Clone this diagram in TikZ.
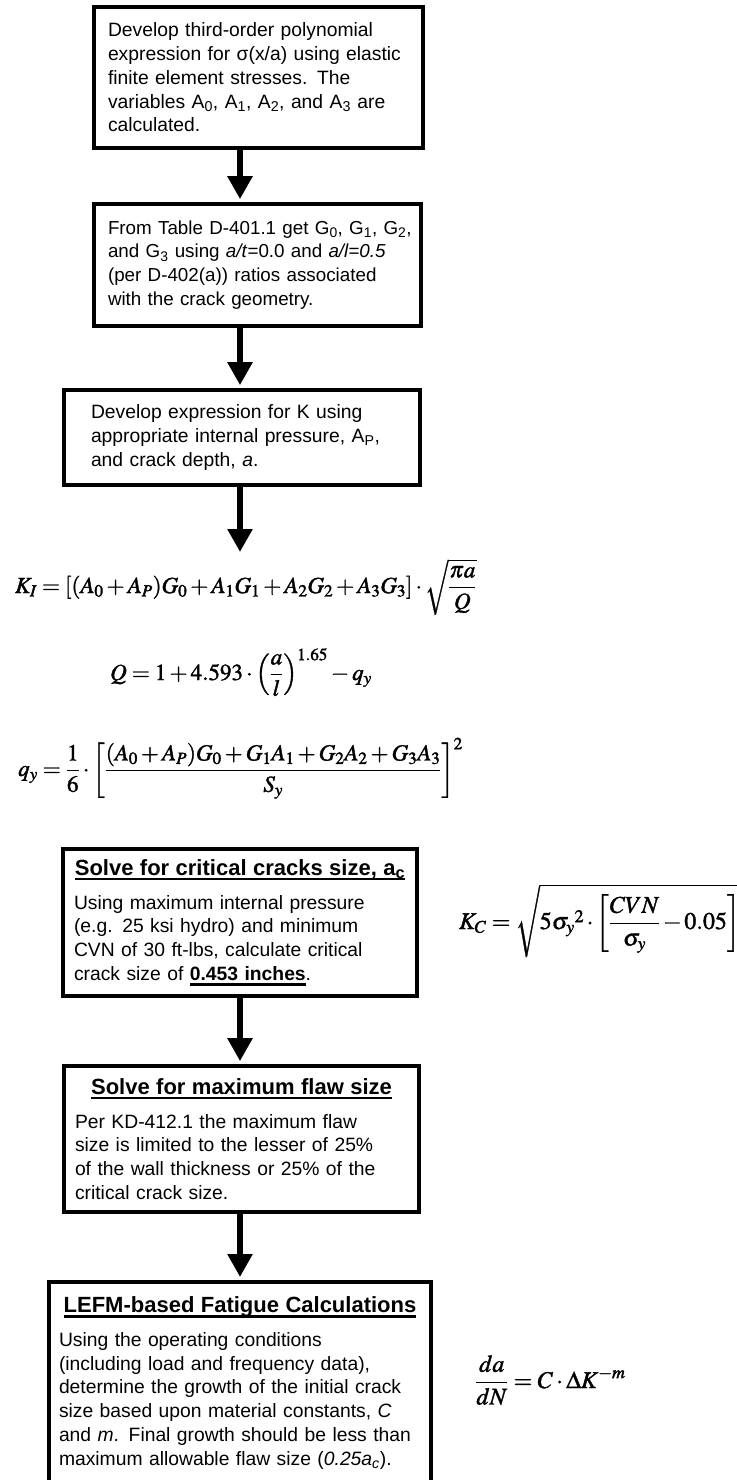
\documentclass[tikz,border=0pt]{standalone}
\usepackage{amsmath}
\usepackage{mathptmx}
\usepackage[no-math]{fontspec}
\newfontfamily\boxfont{Liberation Sans}
\usetikzlibrary{arrows.meta}
\newcommand\undl[1]{\setbox0=\hbox{#1}\rlap{\rule[-5pt]{\wd0}{2.4pt}}\box0}
\newcommand\heavy[1]{\special{x:gsave}\special{pdf:literal direct 2 Tr 0.35 w}#1\special{x:grestore}}
\newcommand\eqsize{\fontsize{23}{27}\selectfont}
\newcommand\boxtitle[1]{\makebox[\hsize][c]{\bfseries\fontsize{22}{23.8}\selectfont\undl{#1}}}

\begin{document}
\begin{tikzpicture}[x=1pt,y=-1pt]
	\tikzstyle{every node}+=[inner sep=0pt]
	\tikzstyle{stepbox}=[draw,line width=3.7pt,align=left,font=\boxfont\fontsize{19.3}{23.8}\selectfont]
	\tikzstyle{flow}=[line width=5.5pt,-{Triangle[width=24pt,length=23pt]},shorten >=3pt]
	\useasboundingbox (0,0) rectangle (736,1480);
	\coordinate (axis) at (240,0);
	\node[stepbox,text width=301pt,inner xsep=14pt,minimum width=329pt,minimum height=141pt] (poly) at (258.5,77.5)
		{Develop third-order polynomial\\expression for σ(x/a) using elastic\\finite element stresses. The\\variables A\textsubscript{0}, A\textsubscript{1}, A\textsubscript{2}, and A\textsubscript{3} are\\calculated.};
	\node[stepbox,font=\boxfont\fontsize{18.8}{23.8}\selectfont,text width=299pt,inner xsep=14pt,minimum width=327pt,minimum height=122pt] (gtab) at (257.5,265)
		{\mbox{From Table D-401.1 get G\textsubscript{0}, G\textsubscript{1}, G\textsubscript{2},}\\and G\textsubscript{3} using \textit{a/t}=0.0 and \textit{a/l=0.5}\\(per D-402(a)) ratios associated\\with the crack geometry.};
	\node[stepbox,text width=302pt,inner xsep=27pt,minimum width=356pt,minimum height=95pt] (kexpr) at (242,437.5)
		{Develop expression for K using\\appropriate internal pressure, A\textsubscript{P},\\and crack depth, \textit{a}.};
	\node[anchor=base west] (ki) at (15,593)
		{\eqsize\heavy{$\displaystyle K_I=[(A_0+A_P)G_0+A_1G_1+A_2G_2+A_3G_3]\cdot\sqrt{\frac{\pi a}{Q}}$}};
	\node[anchor=base west] (qeq) at (110,680)
		{\eqsize\heavy{$\displaystyle Q=1+4.593\cdot\left(\frac{a}{l}\right)^{1.65}-q_y$}};
	\node[anchor=base west] (qy) at (18,776)
		{\eqsize\heavy{$\displaystyle q_y=\frac{1}{6}\cdot\left[\frac{(A_0+A_P)G_0+G_1A_1+G_2A_2+G_3A_3}{S_y}\right]^2$}};
	\node[stepbox,text width=332pt,inner xsep=11pt,minimum width=354pt,minimum height=147pt] (critical) at (240,922.5)
		{\boxtitle{Solve for critical cracks size, a\textsubscript{c}}\\[10pt]Using maximum internal pressure\\(e.g. 25 ksi hydro) and minimum\\CVN of 30 ft-lbs, calculate critical\\crack size of \textbf{\undl{0.453 inches}}.};
	\node[anchor=base west] (kc) at (459,929)
		{\fontsize{24}{28}\selectfont\medmuskip=2mu\heavy{$\displaystyle K_C=\sqrt{5\sigma_y{}^2\cdot\left[\frac{CVN}{\sigma_y}-0.05\right]}$}};
	\node[stepbox,text width=333pt,inner xsep=11pt,minimum width=355pt,minimum height=146pt] (maxflaw) at (241.5,1139)
		{\boxtitle{Solve for maximum flaw size}\\[10pt]Per KD-412.1 the maximum flaw\\size is limited to the lesser of 25\%\\of the wall thickness or 25\% of the\\critical crack size.};
	\node[stepbox,anchor=north,text width=362pt,inner xsep=10pt,minimum width=382pt,minimum height=222pt] (fatigue) at (240,1280)
		{\boxtitle{LEFM-based Fatigue Calculations}\\[10pt]Using the operating conditions\\(including load and frequency data),\\determine the growth of the initial crack\\size based upon material constants, \textit{C}\\and \textit{m}. Final growth should be less than\\maximum allowable flaw size (\textit{0.25a\textsubscript{c}}).\\\mbox{}};
	\node[anchor=base west] (dadn) at (475,1388)
		{\fontsize{24}{28}\selectfont\heavy{$\displaystyle\frac{da}{dN}=C\cdot\Delta K^{-m}$}};
	\coordinate (kin) at (240,555);
	\draw[flow] (poly.south -| axis) -- (gtab.north -| axis);
	\draw[flow] (gtab.south -| axis) -- (kexpr.north -| axis);
	\draw[flow] (kexpr.south -| axis) -- (kin);
	\draw[flow] (critical.south -| axis) -- (maxflaw.north -| axis);
	\draw[flow] (maxflaw.south -| axis) -- (fatigue.north -| axis);
\end{tikzpicture}
\end{document}
